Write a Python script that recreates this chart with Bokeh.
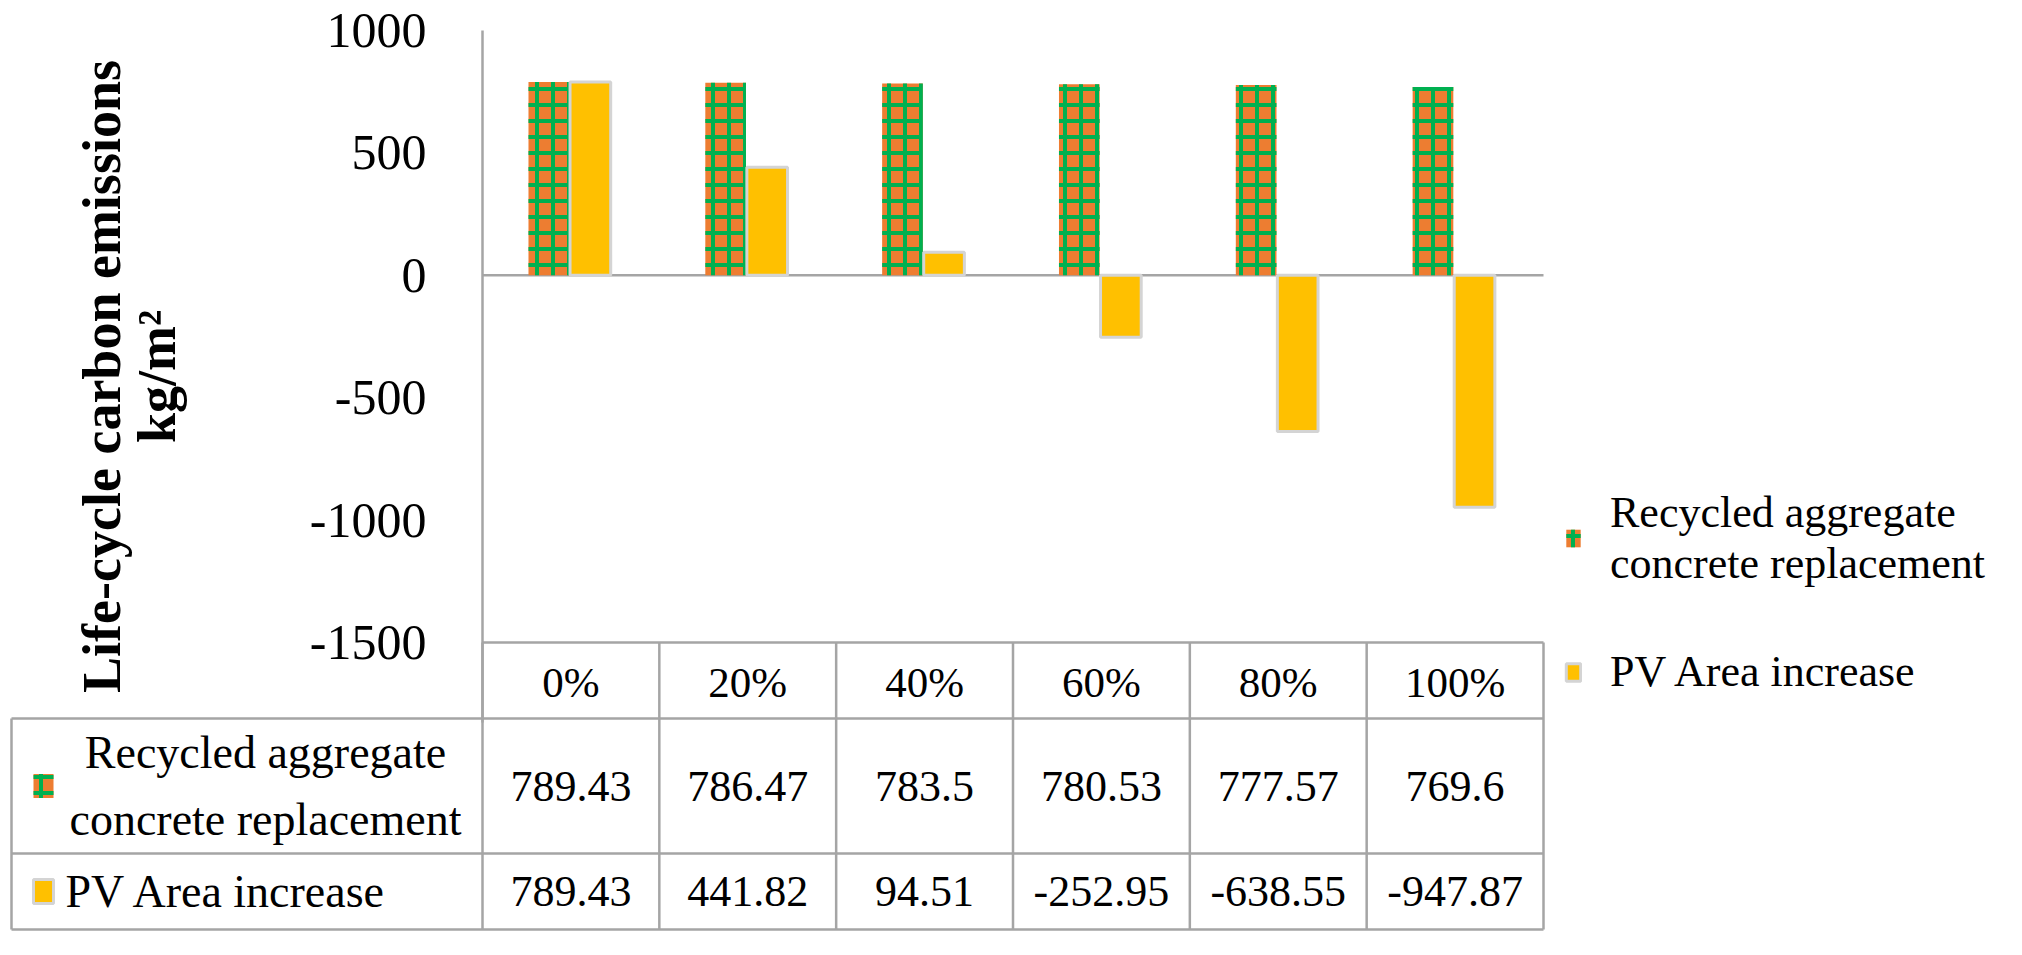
import numpy as np
from bokeh.plotting import figure
from bokeh.models import Range1d, FixedTicker, Legend, LegendItem, ColumnDataSource
from bokeh.transform import dodge
from bokeh.embed import file_html
from bokeh.resources import INLINE
from bokeh.core.properties import value

# ---------------- data ----------------
categories = ["0%", "20%", "40%", "60%", "80%", "100%"]
series_labels = ["Recycled aggregate\nconcrete replacement", "PV Area increase"]
recycled = [789.43, 786.47, 783.5, 780.53, 777.57, 769.6]
pv_area = [789.43, 441.82, 94.51, -252.95, -638.55, -947.87]
table_text = [["789.43", "786.47", "783.5", "780.53", "777.57", "769.6"],
              ["789.43", "441.82", "94.51", "-252.95", "-638.55", "-947.87"]]
y_ticks = [-1500, -1000, -500, 0, 500, 1000]
y_title = "Life-cycle carbon emissions"
y_unit = "kg/m\u00b2"

# ---------------- style / layout ----------------
FONT = "Liberation Serif"
ORANGE = "#ED7D31"
GREEN = "#00B050"
YELLOW = "#FFC000"
BORDER = "#D4D4D4"
GRID = "#A5A5A5"

FIG_W, FIG_H = 2006, 937          # page x 8..2014, y 8..945
PAGE0 = 8
FRAME_L = 14                      # page x of frame left
AXIS_X = 490                      # page x of value axis
N = len(categories)
COL_W = 1061 / N                  # px per category
Y_HI_PX, Y_LO_PX = 38, 650        # page y of y=1000 and y=-1500
Y_HI, Y_LO = y_ticks[-1], y_ticks[0]
PPU = (Y_LO_PX - Y_HI_PX) / (Y_HI - Y_LO)
PAGE_BOTTOM = PAGE0 + FIG_H
TITLE_CENTER_PX = 384             # page y of the centre of the axis title

x_range = Range1d((FRAME_L - AXIS_X) / COL_W, (PAGE0 + FIG_W - AXIS_X) / COL_W)
y_range = Range1d(Y_LO - (PAGE_BOTTOM - Y_LO_PX) / PPU, Y_HI + (Y_HI_PX - PAGE0) / PPU)

p = figure(width=FIG_W, height=FIG_H, x_range=x_range, y_range=y_range,
           output_backend="svg", toolbar_location=None,
           min_border_left=FRAME_L - PAGE0, min_border_right=0, min_border_top=0, min_border_bottom=0,
           outline_line_color=None)
p.extra_y_ranges = {"tbl": Range1d(PAGE_BOTTOM, PAGE0)}   # page-pixel coordinates for the table
p.grid.visible = False

centers = list(np.arange(N) + 0.5)
src = ColumnDataSource(dict(x=centers, cat=categories, rec=recycled, pv=pv_area))

# zero line (category axis)
p.segment(x0=[0], x1=[N], y0=[0], y1=[0], line_color=GRID, line_width=2.5)

r_rec = p.vbar(x=dodge("x", -0.125, range=p.x_range), top="rec", bottom=0, width=0.23, source=src,
               fill_color=ORANGE, line_color=None, hatch_pattern="+", hatch_color=GREEN,
               hatch_weight=4, hatch_scale=16)
r_pv = p.vbar(x=dodge("x", 0.11, range=p.x_range), top="pv", bottom=0, width=0.23, source=src,
              fill_color=YELLOW, line_color=BORDER, line_width=3)

# ---- value axis (anchored at x = 0); its line continues down as the table's column border ----
ya = p.yaxis[0]
ya.fixed_location = 0
low_bound = Y_HI - (2 * TITLE_CENTER_PX - 2 * Y_HI_PX) / PPU
ya.bounds = (low_bound, Y_HI)
ya.ticker = FixedTicker(ticks=y_ticks, minor_ticks=[])
ya.major_label_overrides = {t: str(t) for t in y_ticks}
ya.major_tick_line_color = None
ya.major_tick_out = 0
ya.major_tick_in = 0
ya.minor_tick_line_color = None
ya.axis_line_color = GRID
ya.axis_line_width = 2.5
ya.major_label_text_font = FONT
ya.major_label_text_font_size = "50px"
ya.major_label_text_color = "black"
ya.major_label_standoff = 56
ya.axis_label = y_title + "\n" + y_unit
ya.axis_label_text_font = FONT
ya.axis_label_text_font_style = "bold"
ya.axis_label_text_font_size = "54px"
ya.axis_label_text_color = "black"
ya.axis_label_text_line_height = 0.92
ya.axis_label_standoff = 120

# ---- category axis = table header row (anchored at y = -1500) ----
xa = p.xaxis[0]
xa.fixed_location = Y_LO
xa.bounds = (0, N)
xa.ticker = FixedTicker(ticks=centers, minor_ticks=[])
xa.major_label_overrides = {c: lab for c, lab in zip(centers, categories)}
xa.major_tick_line_color = None
xa.major_tick_out = 0
xa.major_tick_in = 0
xa.minor_tick_line_color = None
xa.axis_line_color = GRID
xa.axis_line_width = 2.5
xa.major_label_text_font = FONT
xa.major_label_text_font_size = "43px"
xa.major_label_text_color = "black"
xa.major_label_standoff = 16

# ---------------- data table (page-pixel y) ----------------
row_edges = [726, 861, 937]                 # tops of rows and bottom line
row_mid = [(row_edges[i] + row_edges[i + 1]) / 2 for i in range(2)]
left_x = (19 - AXIS_X) / COL_W

p.segment(x0=[left_x] * 3, x1=[N] * 3, y0=row_edges, y1=row_edges,
          line_color=GRID, line_width=2.5, y_range_name="tbl")
vx = [left_x] + list(range(N + 1))
vy0 = [row_edges[0]] + [Y_LO_PX] * (N + 1)
p.segment(x0=vx, x1=vx, y0=vy0, y1=[row_edges[-1]] * len(vx),
          line_color=GRID, line_width=2.5, y_range_name="tbl")

tx, ty, tt = [], [], []
for r, vals in enumerate(table_text):
    for i, v in enumerate(vals):
        tx.append(centers[i]); ty.append(row_mid[r]); tt.append(v)
p.text(x=tx, y=ty, text=tt, text_align="center", text_baseline="middle",
       text_font=value(FONT), text_font_size="44px", text_color="black", y_range_name="tbl")

key_x = left_x + 32 / COL_W
p.rect(x=[key_x], y=[row_mid[0]], width=20, height=24, width_units="screen", height_units="screen",
       fill_color=ORANGE, line_color=None, hatch_pattern="+", hatch_color=GREEN, hatch_weight=4,
       hatch_scale=16, y_range_name="tbl")
p.rect(x=[key_x], y=[row_mid[1]], width=20, height=24, width_units="screen", height_units="screen",
       fill_color=YELLOW, line_color=BORDER, line_width=3, y_range_name="tbl")
p.text(x=[left_x + 254 / COL_W], y=[row_mid[0]], text=[series_labels[0]], text_align="center",
       text_baseline="middle", text_font=value(FONT), text_font_size="46px", text_color="black",
       text_line_height=1.3, y_range_name="tbl")
p.text(x=[left_x + 54 / COL_W], y=[row_mid[1]], text=[series_labels[1]], text_align="left",
       text_baseline="middle", text_font=value(FONT), text_font_size="46px", text_color="black",
       y_range_name="tbl")

# ---------------- legend ----------------
legend = Legend(items=[LegendItem(label=series_labels[0], renderers=[r_rec]),
                       LegendItem(label=series_labels[1], renderers=[r_pv])],
                location=(1572 - FRAME_L, PAGE_BOTTOM - 705), padding=0, margin=0, spacing=57,
                glyph_width=18, glyph_height=22, label_standoff=28,
                label_text_font=FONT, label_text_font_size="44px", label_text_color="black",
                label_text_line_height=1.0,
                border_line_color=None, background_fill_alpha=0)
p.add_layout(legend, "center")

open("out.html", "w").write(file_html(p, INLINE))
